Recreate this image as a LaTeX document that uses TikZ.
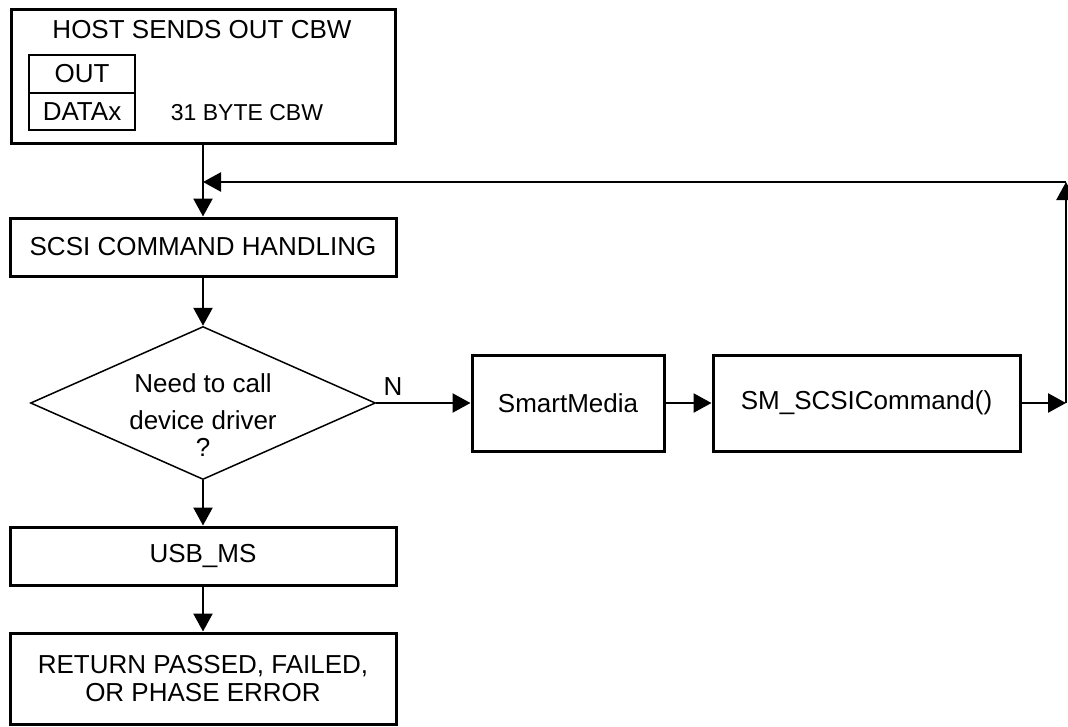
\documentclass[tikz,border=0pt]{standalone}
\usepackage{fontspec}
\setmainfont{Liberation Sans}
\usetikzlibrary{arrows.meta, shapes.geometric}

\begin{document}
\begin{tikzpicture}[x=1pt, y=-1pt, line width=2.5pt,
    box/.style={draw, line width=3pt, inner sep=0pt},
    txt/.style={font=\fontsize{26}{28.5}\selectfont, align=center},
    small/.style={font=\fontsize{23}{26}\selectfont},
    flow/.style={-{Triangle[length=18pt, width=19pt]}}]
    \useasboundingbox (0, 0) rectangle (1068, 726);

    % draw host box
    \node[box, minimum width=384pt, minimum height=134pt] (host) at (203, 76) {};
    \node[txt] (hosttitle) at (202, 30) {HOST SENDS OUT CBW};
    \node[box, line width=2.5pt, minimum width=106pt, minimum height=38pt, txt] (outbox) at (82, 74) {OUT};
    \node[box, line width=2.5pt, minimum width=106pt, minimum height=37pt, txt] (databox) at (82, 111.5) {DATAx};
    \node[small] (bytes) at (247, 113) {31 BYTE CBW};

    % draw left column
    \node[box, txt, minimum width=386pt, minimum height=58pt] (scsi) at (203, 247) {SCSI COMMAND HANDLING};
    \node[draw, diamond, line width=1.5pt, inner sep=0pt, minimum width=345pt, minimum height=153pt] (need) at (203, 403) {};
    \node[txt] (needtxt) at (203, 415) {Need to call\\[8pt]device driver\\[-1.5pt]?};
    \node[box, txt, minimum width=386pt, minimum height=58pt] (usb) at (203, 556) {USB\_MS};
    \node[box, txt, minimum width=386pt, minimum height=91pt] (ret) at (203, 678.5) {RETURN PASSED, FAILED,\\OR PHASE ERROR};

    % draw right row
    \node[box, txt, minimum width=192pt, minimum height=96pt] (smart) at (568, 403) {SmartMedia};
    \node[box, txt, minimum width=307pt, minimum height=96pt] (smcmd) at (866.5, 403) {SM\_SCSICommand()};

    % draw connectors
    \draw[flow] (host.south) -- (scsi.north);
    \draw[flow] (scsi.south) -- (need.north);
    \draw[flow] (need.east) -- (smart.west);
    \node[txt] (nlabel) at (393, 387) {N};
    \draw[flow] (smart.east) -- (smcmd.west);
    \draw[flow] (need.south) -- (usb.north);
    \draw[flow] (usb.south) -- (ret.north);

    % draw loop back
    \coordinate (fbright) at (1066, 403);
    \coordinate (fbtop) at (1066, 182);
    \coordinate (fbleft) at (203, 182);
    \draw[flow] (smcmd.east) -- (fbright);
    \draw[flow] (fbright) -- (fbtop);
    \draw[flow] (fbtop) -- (fbleft);
\end{tikzpicture}
\end{document}
